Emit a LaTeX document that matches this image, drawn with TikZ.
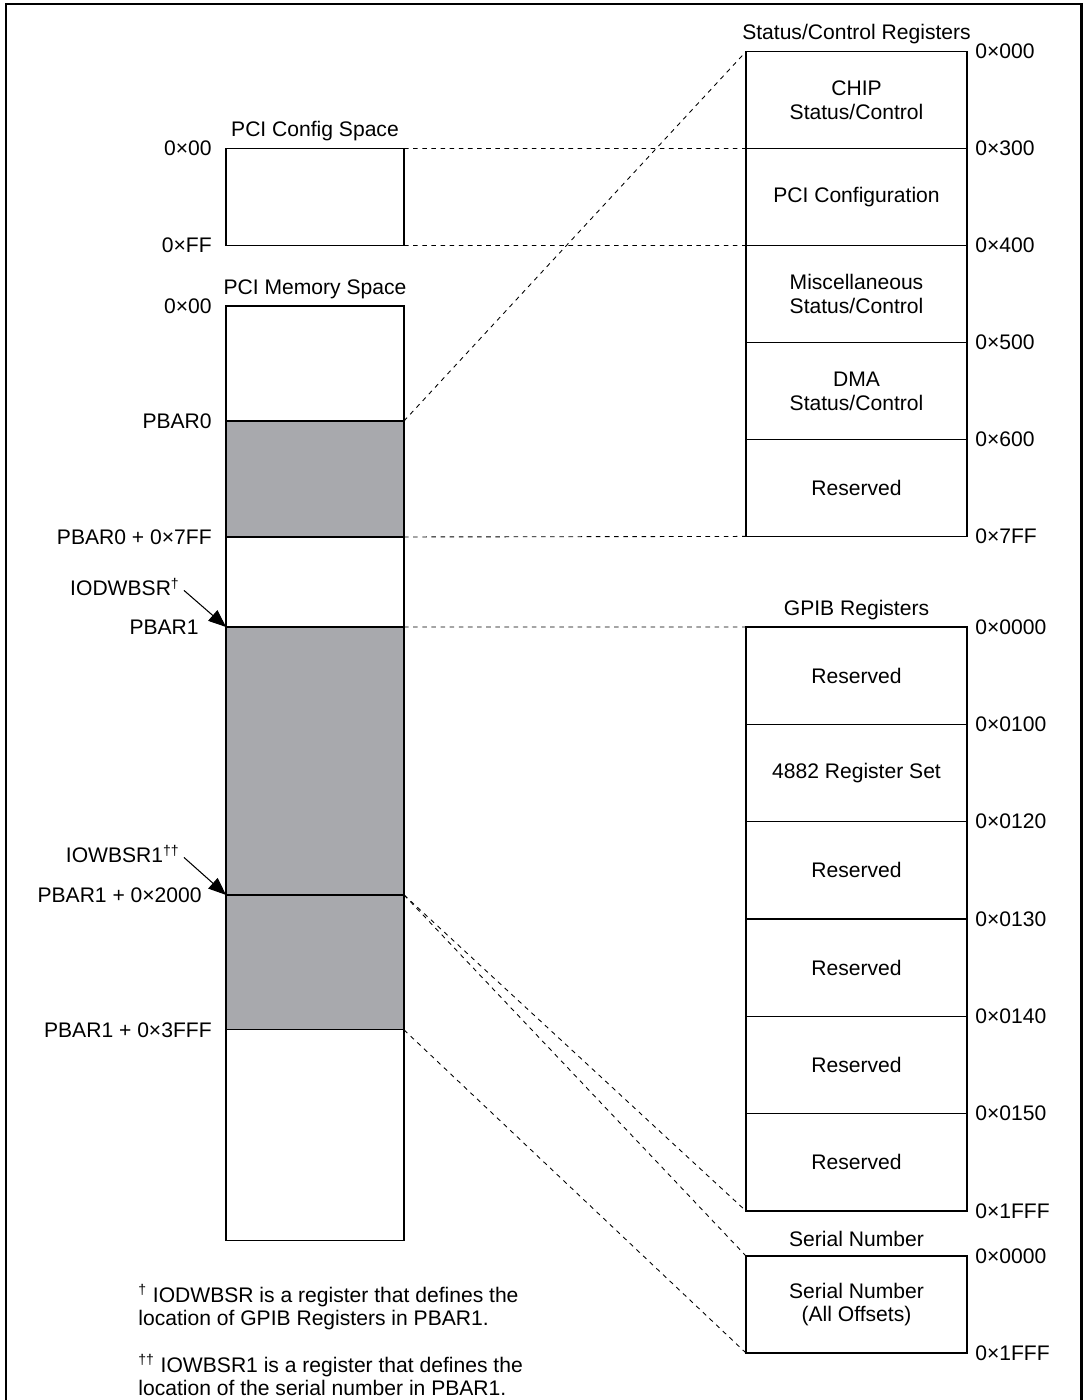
\documentclass[tikz,border=0pt]{standalone}
\usepackage{fontspec}
\setmainfont{Liberation Sans}
\usetikzlibrary{arrows.meta,positioning}
\definecolor{MapGray}{HTML}{A8A9AD}
\tikzset{regbox/.style={draw,line width=0.7pt,outer sep=0pt,minimum width=4.42cm,minimum height=1.94cm,align=center,font=\fontsize{12}{13.6}\selectfont},
  gpibbox/.style={regbox,minimum height=1.947cm},
  membox/.style={draw,line width=0.7pt,outer sep=0pt,minimum width=3.56cm},
  barbox/.style={membox,fill=MapGray},
  addr/.style={inner sep=0pt,font=\fontsize{12}{14}\selectfont},
  spacehead/.style={inner sep=0pt,anchor=base,font=\fontsize{12}{14}\selectfont},
  map/.style={dash pattern=on 2.6pt off 2.6pt,line width=0.5pt},
  ptr/.style={-{Triangle[length=10pt,width=8pt]},line width=0.6pt,shorten <=3pt},
  note/.style={inner sep=0pt,align=left,anchor=north west,font=\fontsize{12}{13.4}\selectfont}}

\begin{document}
\begin{tikzpicture}[x=0.02cm,y=-0.02cm]
\useasboundingbox (0,0) rectangle (1085,1400);
\draw[line width=1.7pt] (6,1400) -- (6,4) -- (1081,4) -- (1081,1400);
% PCI side
\node[membox,minimum height=1.94cm] (cfg) at (315,197) {};
\node[membox,minimum height=2.3cm] (memtop) at (315,363.5) {};
\node[barbox,minimum height=2.32cm,below=0pt of memtop] (bar0) {};
\node[membox,minimum height=1.8cm,below=0pt of bar0] (gapa) {};
\node[barbox,minimum height=5.36cm,below=0pt of gapa] (bar1a) {};
\node[barbox,minimum height=2.7cm,below=0pt of bar1a] (bar1b) {};
\node[membox,minimum height=4.22cm,below=0pt of bar1b] (membot) {};
\node[spacehead] (cfghead) at ([yshift=0.24cm]cfg.north) {PCI Config Space};
\node[spacehead] (memhead) at ([yshift=0.24cm]memtop.north) {PCI Memory Space};
\node[addr,left=0.28cm of cfg.north west] (c00) {0×00};
\node[addr,left=0.28cm of cfg.south west] (cff) {0×FF};
\node[addr,left=0.28cm of memtop.north west] (m00) {0×00};
\node[addr,left=0.28cm of bar0.north west] (pb0) {PBAR0};
\node[addr,left=0.28cm of bar0.south west] (pb0e) {PBAR0 + 0×7FF};
\node[addr,left=0.54cm of bar1a.north west] (pb1) {PBAR1};
\node[addr,left=0.48cm of bar1b.north west] (pb1m) {PBAR1 + 0×2000};
\node[addr,left=0.28cm of bar1b.south west] (pb1e) {PBAR1 + 0×3FFF};
\node[addr,anchor=east] (iodw) at ([xshift=-0.92cm,yshift=0.8cm]bar1a.north west) {IODWBSR\textsuperscript{†}};
\node[addr,anchor=east] (iowb) at ([xshift=-0.92cm,yshift=0.82cm]bar1b.north west) {IOWBSR1\textsuperscript{††}};
\draw[ptr] (iodw.east) -- (bar1a.north west);
\draw[ptr] (iowb.east) -- (bar1b.north west);
% status/control registers
\node[regbox] (chip) at (856.5,100) {CHIP\\Status/Control};
\node[regbox,below=0pt of chip] (pcicfg) {PCI Configuration};
\node[regbox,below=0pt of pcicfg] (misc) {Miscellaneous\\Status/Control};
\node[regbox,below=0pt of misc] (dma) {DMA\\Status/Control};
\node[regbox,below=0pt of dma] (rsvA) {Reserved};
\node[spacehead] (stathead) at ([yshift=0.24cm]chip.north) {Status/Control Registers};
\node[addr,right=0.16cm of chip.north east] (s000) {0×000};
\node[addr,right=0.16cm of pcicfg.north east] (s300) {0×300};
\node[addr,right=0.16cm of misc.north east] (s400) {0×400};
\node[addr,right=0.16cm of dma.north east] (s500) {0×500};
\node[addr,right=0.16cm of rsvA.north east] (s600) {0×600};
\node[addr,right=0.16cm of rsvA.south east] (s7ff) {0×7FF};
% GPIB registers
\node[gpibbox] (gp1) at (856.5,675.7) {Reserved};
\node[gpibbox,below=0pt of gp1] (gp2) {4882 Register Set};
\node[gpibbox,below=0pt of gp2] (gp3) {Reserved};
\node[gpibbox,below=0pt of gp3] (gp4) {Reserved};
\node[gpibbox,below=0pt of gp4] (gp5) {Reserved};
\node[gpibbox,below=0pt of gp5] (gp6) {Reserved};
\node[spacehead] (gphead) at ([yshift=0.24cm]gp1.north) {GPIB Registers};
\node[addr,right=0.16cm of gp1.north east] (g0000) {0×0000};
\node[addr,right=0.16cm of gp2.north east] (g0100) {0×0100};
\node[addr,right=0.16cm of gp3.north east] (g0120) {0×0120};
\node[addr,right=0.16cm of gp4.north east] (g0130) {0×0130};
\node[addr,right=0.16cm of gp5.north east] (g0140) {0×0140};
\node[addr,right=0.16cm of gp6.north east] (g0150) {0×0150};
\node[addr,right=0.16cm of gp6.south east] (g1fff) {0×1FFF};
% serial number
\node[regbox] (serial) at (856.5,1304.5) {Serial Number\\(All Offsets)};
\node[spacehead] (serhead) at ([yshift=0.2cm]serial.north) {Serial Number};
\node[addr,right=0.16cm of serial.north east] (n0000) {0×0000};
\node[addr,right=0.16cm of serial.south east] (n1fff) {0×1FFF};
% mapping lines
\draw[map] (cfg.north east) -- (pcicfg.north west);
\draw[map] (cfg.south east) -- (pcicfg.south west);
\draw[map] (bar0.north east) -- (chip.north west);
\draw[map] (bar0.south east) -- (rsvA.south west);
\draw[map] (bar1a.north east) -- (gp1.north west);
\draw[map] (bar1a.south east) -- (gp6.south west);
\draw[map] (bar1b.north east) -- (serial.north west);
\draw[map] (bar1b.south east) -- (serial.south west);
% footnotes
\node[note] (fn1) at (138,1284) {\textsuperscript{†} IODWBSR is a register that defines the\\location of GPIB Registers in PBAR1.};
\node[note] (fn2) at (138,1354) {\textsuperscript{††} IOWBSR1 is a register that defines the\\location of the serial number in PBAR1.};
\end{tikzpicture}
\end{document}
